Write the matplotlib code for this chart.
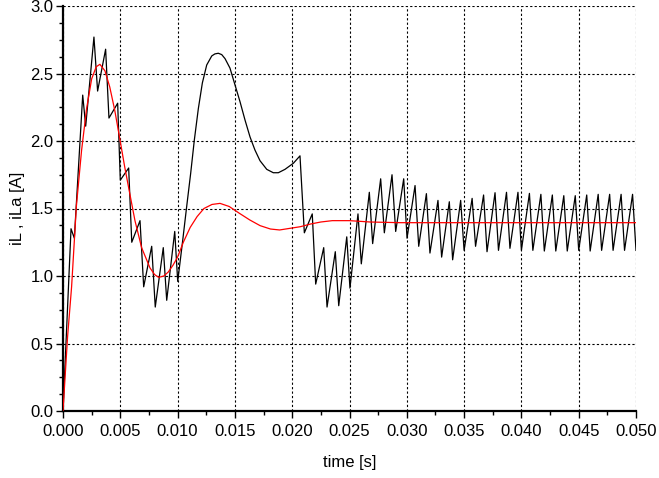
import matplotlib
matplotlib.use('Agg')
import matplotlib.pyplot as plt
from matplotlib.ticker import MultipleLocator, FormatStrFormatter

plt.rcParams['font.family'] = ['Liberation Sans', 'DejaVu Sans']

# inductor current iL (switching ripple), vertices
t_iL = [0.0, 0.0007, 0.00099, 0.00172, 0.00198, 0.0027, 0.00302, 0.00372, 0.00401,
        0.00477, 0.00500, 0.00573, 0.00600, 0.00672, 0.00704, 0.00774, 0.00805,
        0.00875, 0.00905, 0.00975, 0.01001,
        # smooth hump
        0.01045, 0.01079, 0.01114, 0.01146, 0.01181, 0.01216, 0.01254, 0.01298,
        0.01325, 0.01355, 0.01385, 0.01414, 0.01457, 0.01501, 0.01545, 0.01588,
        0.01632, 0.01675, 0.01719, 0.01778, 0.01835, 0.01879, 0.01937, 0.0201,
        0.02068,
        # switching again
        0.02106, 0.02175, 0.02205, 0.02275, 0.02304, 0.02376, 0.02406, 0.02476,
        0.02504, 0.02574, 0.02603, 0.02673, 0.02702, 0.02772, 0.02804, 0.02871,
        0.02903, 0.02973, 0.03002, 0.03072, 0.03104, 0.03171, 0.03202, 0.03272,
        0.03304, 0.03371, 0.03400, 0.03470, 0.03500, 0.03570, 0.03600, 0.03670,
        0.03700, 0.03770, 0.03800, 0.03870, 0.03900, 0.03970, 0.04000, 0.04070,
        0.04100, 0.04170, 0.04200, 0.04270, 0.04300, 0.04370, 0.04400, 0.04470,
        0.04500, 0.04570, 0.04600, 0.04670, 0.04700, 0.04770, 0.04800, 0.04870,
        0.04900, 0.04970, 0.05000]
i_L = [0.0, 1.35, 1.28, 2.34, 2.11, 2.77, 2.37, 2.68, 2.17,
       2.28, 1.71, 1.80, 1.25, 1.41, 0.92, 1.22, 0.77,
       1.21, 0.82, 1.33, 0.96,
       1.267, 1.513, 1.76, 2.007, 2.24, 2.43, 2.563, 2.63,
       2.645, 2.65, 2.64, 2.61, 2.54, 2.415, 2.29, 2.156,
       2.03, 1.933, 1.854, 1.79, 1.765, 1.765, 1.79, 1.835,
       1.89,
       1.32, 1.46, 0.94, 1.21, 0.77, 1.18, 0.78, 1.29,
       0.91, 1.46, 1.09, 1.62, 1.24, 1.72, 1.32, 1.75,
       1.33, 1.72, 1.28, 1.67, 1.22, 1.61, 1.17, 1.56,
       1.14, 1.55, 1.12, 1.56, 1.19, 1.575, 1.22, 1.60,
       1.18, 1.617, 1.19, 1.62, 1.205, 1.62, 1.19, 1.612,
       1.19, 1.605, 1.185, 1.60, 1.185, 1.595, 1.185, 1.595,
       1.19, 1.60, 1.185, 1.605, 1.19, 1.605, 1.19, 1.605,
       1.19, 1.605, 1.19]

# averaged current iLa
t_iLa = [0.0, 0.0004, 0.00075, 0.00117, 0.00162, 0.00206, 0.0025, 0.0029,
         0.00322, 0.00366, 0.00408, 0.00451, 0.00495, 0.00538, 0.00585, 0.00628,
         0.00686, 0.00759, 0.0080, 0.00835, 0.0088, 0.00919, 0.0096, 0.0100,
         0.0105, 0.0111, 0.0117, 0.0123, 0.0130, 0.0137, 0.0145, 0.0154,
         0.0163, 0.0172, 0.0181, 0.0189, 0.0198, 0.0207, 0.0216, 0.0225,
         0.0235, 0.0250, 0.0268, 0.0294, 0.0338, 0.0400, 0.0500]
i_La = [0.0, 0.55, 0.92, 1.52, 1.93, 2.24, 2.46, 2.55,
        2.568, 2.52, 2.40, 2.23, 2.02, 1.81, 1.60, 1.41,
        1.21, 1.06, 1.01, 0.99, 1.0, 1.03, 1.08, 1.14,
        1.25, 1.36, 1.44, 1.50, 1.53, 1.538, 1.515, 1.464,
        1.415, 1.373, 1.348, 1.341, 1.353, 1.365, 1.385, 1.40,
        1.41, 1.41, 1.40, 1.395, 1.395, 1.395, 1.395]

fig = plt.figure(figsize=(6.59, 4.78), dpi=100)
ax = fig.add_axes([63 / 659, 1 - 411 / 478, (636 - 63) / 659, (411 - 6) / 478])

ax.plot(t_iL, i_L, color='black', lw=0.9, zorder=3, solid_joinstyle='round')
ax.plot(t_iLa, i_La, color='#ff0000', lw=0.9, zorder=4, solid_joinstyle='round')

ax.set_xlim(0, 0.05)
ax.set_ylim(0, 3.0)
ax.xaxis.set_major_locator(MultipleLocator(0.005))
ax.xaxis.set_minor_locator(MultipleLocator(0.0025))
ax.yaxis.set_major_locator(MultipleLocator(0.5))
ax.yaxis.set_minor_locator(MultipleLocator(0.125))
ax.xaxis.set_major_formatter(FormatStrFormatter('%.3f'))
ax.yaxis.set_major_formatter(FormatStrFormatter('%.1f'))

ax.grid(True, which='major', color='black', linestyle=(0, (2, 2)), lw=0.8)
ax.set_axisbelow(True)
for s in ['top', 'right']:
    ax.spines[s].set_visible(False)
for s in ['left', 'bottom']:
    ax.spines[s].set_linewidth(1.6)

ax.tick_params(axis='x', which='major', direction='out', length=5, width=1, labelsize=12, pad=4)
ax.tick_params(axis='y', which='major', direction='out', length=5, width=1, labelsize=12, pad=2)
ax.tick_params(which='minor', direction='out', length=3, width=1)

ax.set_xlabel('time [s]', fontsize=12, labelpad=12)
ax.set_ylabel('iL , iLa [A]', fontsize=12, labelpad=4)

fig.savefig('out.png', dpi=100)
